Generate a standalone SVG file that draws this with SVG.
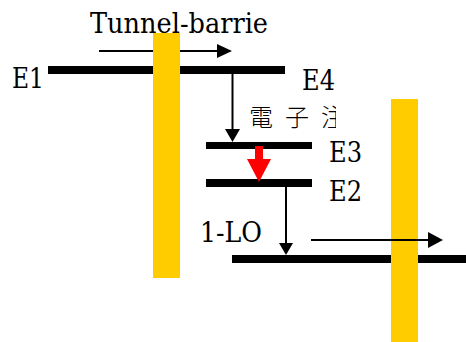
<svg xmlns="http://www.w3.org/2000/svg" width="466" height="342" viewBox="0 0 466 342">
<style>
.lvl{stroke:#000;stroke-width:8;fill:none}
.thin{stroke:#000;stroke-width:2;fill:none}
.bar{fill:#FFCC00}
.t{font-family:"DejaVu Serif",serif;font-size:27px;fill:#000}
</style>
<defs>
<clipPath id="cjkclip"><rect x="240" y="95" width="96" height="40"/></clipPath>
</defs>
<g id="connectors-under">
<line class="thin" x1="99" y1="51" x2="219" y2="51"/>
<polygon points="217,44 232,51 217,58" fill="#000"/>
</g>
<g id="level-E1-E4"><line class="lvl" x1="48" y1="70" x2="285" y2="70"/></g>
<g id="level-E3"><line class="lvl" x1="206" y1="145.5" x2="312" y2="145.5" style="stroke-width:7"/></g>
<g id="level-E2"><line class="lvl" x1="206" y1="183" x2="312" y2="183"/></g>
<g id="level-bottom"><line class="lvl" x1="232" y1="259" x2="466" y2="259"/></g>
<g id="barrier-1"><rect class="bar" x="153" y="33" width="27" height="245"/></g>
<g id="barrier-2"><rect class="bar" x="391" y="99" width="27" height="243"/></g>
<g id="connectors">
<line class="thin" x1="232.5" y1="74" x2="232.5" y2="131"/>
<polygon points="225,129 240,129 232.5,142" fill="#000"/>
<rect x="255" y="146" width="8" height="14" fill="#FF0000"/>
<polygon points="247,159 271,159 259,182" fill="#FF0000"/>
<line class="thin" x1="286" y1="187" x2="286" y2="245"/>
<polygon points="279,243 293,243 286,255" fill="#000"/>
<line class="thin" x1="311" y1="240" x2="430" y2="240"/>
<polygon points="428,232 443,240 428,248" fill="#000"/>
</g>
<g id="labels">
<text class="t" x="90" y="33" textLength="178" lengthAdjust="spacingAndGlyphs">Tunnel-barrie</text>
<text class="t" x="12" y="88" textLength="32" lengthAdjust="spacingAndGlyphs">E1</text>
<text class="t" x="302" y="90" textLength="33" lengthAdjust="spacingAndGlyphs">E4</text>
<text class="t" x="329" y="162" textLength="33" lengthAdjust="spacingAndGlyphs">E3</text>
<text class="t" x="329" y="201" textLength="33" lengthAdjust="spacingAndGlyphs">E2</text>
<text class="t" x="200" y="242" textLength="62" lengthAdjust="spacingAndGlyphs">1-LO</text>
<text x="249 285 321" y="126" clip-path="url(#cjkclip)" font-family="Noto Sans CJK JP, Noto Sans CJK SC, sans-serif" font-size="24" font-weight="300">電子注</text>
</g>
</svg>
